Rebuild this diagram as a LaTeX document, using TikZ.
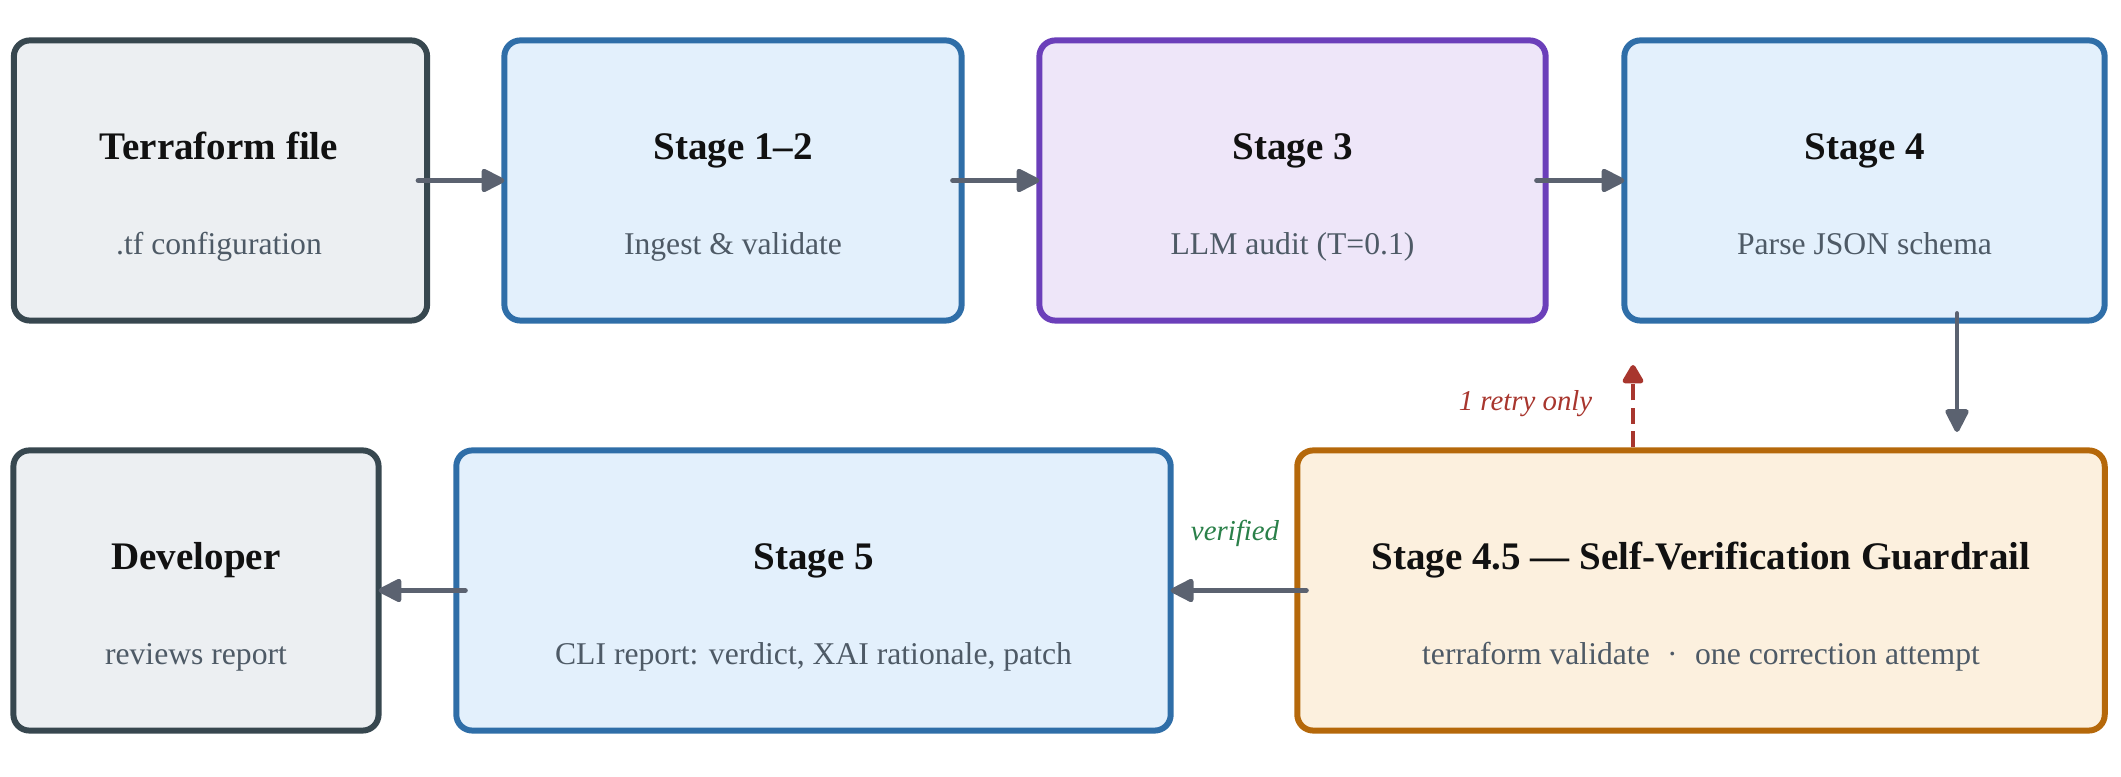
\documentclass[tikz,border=0pt]{standalone}
\usepackage{fontspec}
\setmainfont{Liberation Serif}
\usetikzlibrary{arrows.meta}
\definecolor{grayB}{HTML}{37474F}
\definecolor{grayF}{HTML}{ECEFF2}
\definecolor{blueB}{HTML}{2F6EA8}
\definecolor{blueF}{HTML}{E3F0FC}
\definecolor{purpB}{HTML}{6B3FBA}
\definecolor{purpF}{HTML}{EEE6F9}
\definecolor{orgB}{HTML}{B5680A}
\definecolor{orgF}{HTML}{FCF0DE}
\definecolor{arrC}{HTML}{5B6270}
\definecolor{retryC}{HTML}{A8362E}
\definecolor{verC}{HTML}{2A8049}
\definecolor{titleC}{HTML}{111111}
\definecolor{subC}{HTML}{4E5A66}
\begin{document}
\begin{tikzpicture}[x=0.01cm,y=-0.01cm,
  box/.style={draw, rounded corners=0.16cm, line width=1.7pt, inner sep=0pt, minimum height=2.80cm},
  grayb/.style={box, draw=grayB, fill=grayF},
  blueb/.style={box, draw=blueB, fill=blueF},
  purpb/.style={box, draw=purpB, fill=purpF},
  orgb/.style={box, draw=orgB, fill=orgF},
  ttl/.style={font=\fontsize{11.1}{13}\selectfont\bfseries, text=titleC, anchor=base, inner sep=0pt},
  sub/.style={font=\fontsize{9}{11}\selectfont, text=subC, anchor=base, inner sep=0pt},
  lab/.style={font=\fontsize{8.2}{10}\selectfont\itshape, inner sep=0pt},
  arr/.style={draw=arrC, line width=1.4pt, line cap=round, -{Triangle[length=0.26cm,width=0.25cm,round]}},
  retry/.style={draw=retryC, line width=1.4pt, dash pattern=on 0.16cm off 0.075cm, -{Triangle[length=0.21cm,width=0.23cm,round]}}
]
\useasboundingbox (0,0) rectangle (2121,777);

% boxes
\node[grayb, minimum width=4.13cm] (b1) at (220.5,180.5) {};
\node[blueb, minimum width=4.57cm] (b2) at (733,180.5) {};
\node[purpb, minimum width=5.06cm] (b3) at (1292.5,180.5) {};
\node[blueb, minimum width=4.80cm] (b4) at (1864.5,180.5) {};
\node[grayb, minimum width=3.65cm] (b5) at (196,590.5) {};
\node[blueb, minimum width=7.14cm] (b6) at (813.5,590.5) {};
\node[orgb, minimum width=8.07cm] (b7) at (1701,590.5) {};

% texts
\node[ttl] (t1) at (219,160) {Terraform file};
\node[sub] (s1) at (219,255) {.tf configuration};
\node[ttl] (t2) at (733,160) {Stage 1–2};
\node[sub] (s2) at (733,255) {Ingest \& validate};
\node[ttl] (t3) at (1292.5,160) {Stage 3};
\node[sub] (s3) at (1292.5,255) {LLM audit (T=0.1)};
\node[ttl] (t4) at (1864.5,160) {Stage 4};
\node[sub] (s4) at (1864.5,255) {Parse JSON schema};
\node[ttl] (t5) at (196,570) {Developer};
\node[sub] (s5) at (196,665) {reviews report};
\node[ttl] (t6) at (813.5,570) {Stage 5};
\node[sub] (s6) at (813.5,665) {CLI report: verdict, XAI rationale, patch};
\node[ttl] (t7) at (1701,570) {Stage 4.5 — Self-Verification Guardrail};
\node[sub] (s7) at (1701,665) {terraform validate\hspace{0.55em}·\hspace{0.55em}one correction attempt};

% connectors
\draw[arr] ([xshift=-0.12cm]b1.east) -- ([xshift=0.03cm]b2.west);
\draw[arr] ([xshift=-0.12cm]b2.east) -- ([xshift=0.03cm]b3.west);
\draw[arr] ([xshift=-0.12cm]b3.east) -- ([xshift=0.03cm]b4.west);
\coordinate (dE) at (1957,432);
\draw[arr] ([yshift=0.1cm]b4.south -| dE) -- (dE);
\draw[arr] ([xshift=0.12cm]b7.west) -- ([xshift=-0.03cm]b6.east);
\draw[arr] ([xshift=0.12cm]b6.west) -- ([xshift=-0.03cm]b5.east);
\coordinate (rE) at (1633,365);
\draw[retry] (b7.north -| rE) -- (rE);

% labels
\node[lab, text=retryC, anchor=base east] (l1) at (1593,411) {1 retry only};
\node[lab, text=verC, anchor=base] (l2) at (1235,541) {verified};
\end{tikzpicture}
\end{document}
